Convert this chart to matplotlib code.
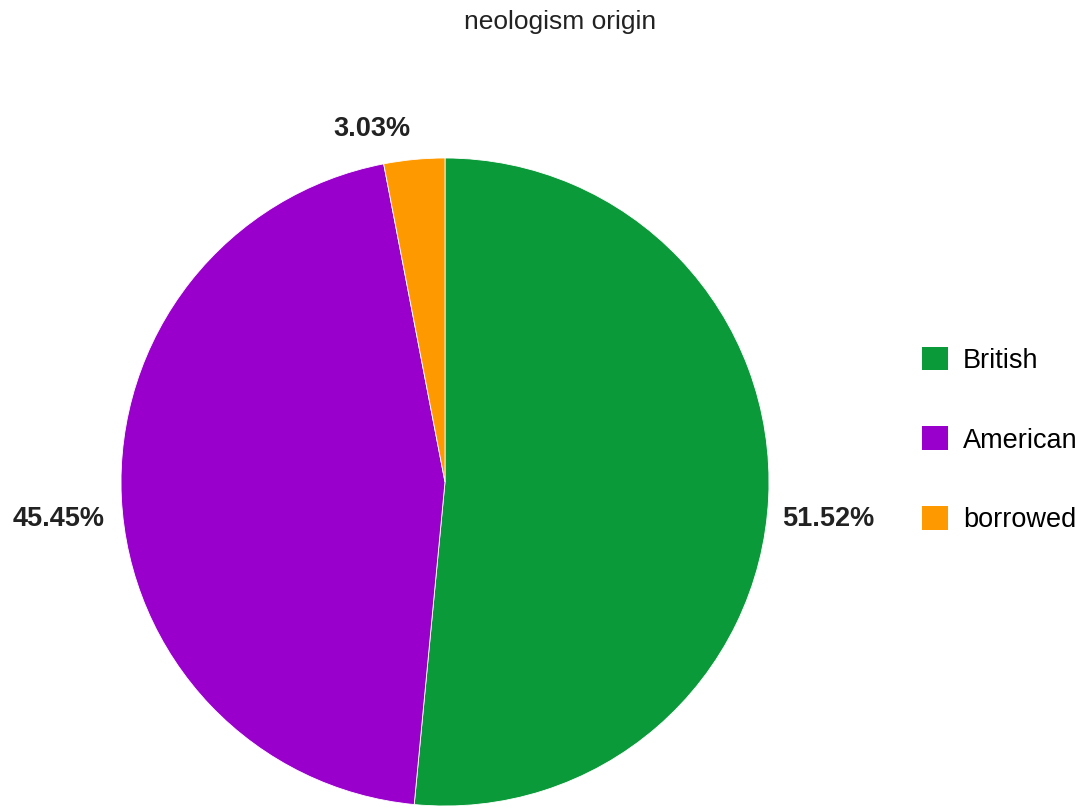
import matplotlib.pyplot as plt
from matplotlib.patches import Patch

# neologism origin counts
labels = ['British', 'American', 'borrowed']
counts = [17, 15, 1]
colors = ['#0a9a3a', '#9900cc', '#ff9900']

plt.rcParams['font.family'] = ['Liberation Sans', 'DejaVu Sans']

fig = plt.figure(figsize=(10.84, 8.09), dpi=100)
fig.patch.set_facecolor('white')

# pie axes, radius ~324px centred at (445, 482)
ax = fig.add_axes([121 / 1084, 3 / 809, 648 / 1084, 648 / 809])
wedges, _ = ax.pie(counts, colors=colors, startangle=90, counterclock=False,
                   wedgeprops=dict(edgecolor='white', linewidth=0.6))
ax.set_xlim(-1, 1)
ax.set_ylim(-1, 1)
ax.set_aspect('equal')
ax.axis('off')

# percentage labels outside the slices
total = sum(counts)
label_pos = [(1.182, -0.115), (-1.194, -0.115), (-0.225, 1.09)]
for c, (x, y) in zip(counts, label_pos):
    ax.text(x, y, f'{100 * c / total:.2f}%', ha='center', va='center',
            fontsize=19.5, fontweight='bold', color='#222222', clip_on=False)

fig.text(560 / 1084, 1 - 22 / 809, 'neologism origin', ha='center', va='center',
         fontsize=19, color='#222222')

handles = [Patch(facecolor=col, edgecolor='none') for col in colors]
fig.legend(handles, labels, loc='center left', bbox_to_anchor=(922 / 1084, 1 - 440 / 809),
           frameon=False, fontsize=19.5, handlelength=0.96, handleheight=0.96,
           labelspacing=1.95, handletextpad=0.55, borderpad=0, borderaxespad=0)

fig.savefig('out.png', dpi=100, facecolor='white')
